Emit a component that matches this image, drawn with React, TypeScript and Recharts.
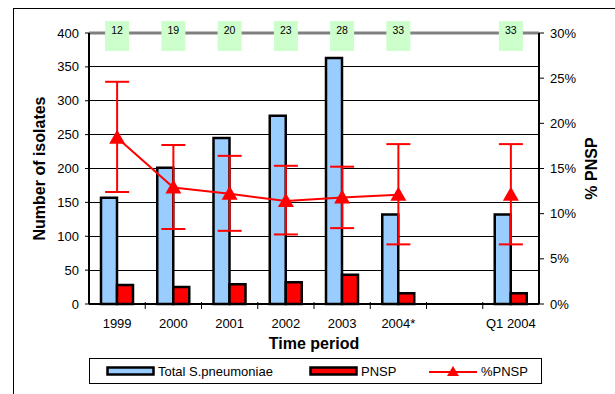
import { ComposedChart, Bar, Line, XAxis, YAxis, CartesianGrid, ReferenceLine, ErrorBar, Label } from 'recharts';

const periods = ['1999', '2000', '2001', '2002', '2003', '2004*', '', 'Q1 2004'];
const totalIsolates = [157, 201, 245, 278, 363, 132, null, 132];
const pnspIsolates = [28, 25, 29, 32, 43, 16, null, 16];
const pnspPercent = [18.4, 12.9, 12.2, 11.4, 11.8, 12.1, null, 12.1];
const ciLower = [12.4, 8.3, 8.1, 7.7, 8.4, 6.6, null, 6.6];
const ciUpper = [24.6, 17.6, 16.4, 15.3, 15.2, 17.7, null, 17.7];
const labCounts = [12, 19, 20, 23, 28, 33, null, 33];
const leftTicks = [0, 50, 100, 150, 200, 250, 300, 350, 400];
const rightTicks = [0, 5, 10, 15, 20, 25, 30];

const data = periods.map((period, i) => ({
  period,
  total: totalIsolates[i],
  pnsp: pnspIsolates[i],
  pct: pnspPercent[i],
  pctErr:
    pnspPercent[i] == null ? undefined : [pnspPercent[i]! - ciLower[i]!, ciUpper[i]! - pnspPercent[i]!],
  labs: labCounts[i],
}));

const FONT = '"Liberation Sans", Arial, sans-serif';
const BLUE = '#99ccff';
const RED = '#ff0000';

const BottomTick = (props: any) => {
  const { x, y, payload, index } = props;
  const half = payload?.offset ?? 0;
  return (
    <g>
      {index > 0 && <line x1={x - half} x2={x - half} y1={y - 2} y2={y + 5} stroke="#000" strokeWidth={1} />}
      <text x={x} y={y + 24} textAnchor="middle" fontSize={13} fontFamily={FONT} fill="#000">
        {payload.value}
      </text>
    </g>
  );
};

const TopTick = (props: any) => {
  const { x, y, index } = props;
  const n = labCounts[index];
  if (n == null) return null;
  return (
    <g>
      <rect x={x - 12} y={y - 12} width={24} height={30} fill="#ccffcc" />
      <text x={x} y={y + 1} textAnchor="middle" fontSize={10.5} fontFamily={FONT} fill="#000">
        {n}
      </text>
    </g>
  );
};

const Triangle = (props: any) => {
  const { cx, cy } = props;
  if (cx == null || cy == null) return null;
  return <path d={`M${cx},${cy - 8} L${cx + 8},${cy + 6} L${cx - 8},${cy + 6} Z`} fill={RED} />;
};

const legendItems = [
  { name: 'Total S.pneumoniae', kind: 'bar', color: BLUE, left: 16 },
  { name: 'PNSP', kind: 'bar', color: RED, left: 219 },
  { name: '%PNSP', kind: 'line', color: RED, left: 339 },
];

function ChartLegend() {
  return (
    <div
      style={{
        position: 'absolute',
        left: 89,
        top: 358,
        width: 453,
        height: 26,
        border: '1px solid #000',
        boxSizing: 'border-box',
        fontFamily: FONT,
        fontSize: 13,
      }}
    >
      {legendItems.map((it) => (
        <div key={it.name} style={{ position: 'absolute', left: it.left, top: 0, height: 24, display: 'flex', alignItems: 'center' }}>
          <svg width={50} height={16} style={{ display: 'block' }}>
            {it.kind === 'bar' ? (
              <rect x={1.5} y={4.5} width={46} height={7} fill={it.color} stroke="#000" strokeWidth={2.5} />
            ) : (
              <g>
                <line x1={0} x2={48} y1={9} y2={9} stroke={it.color} strokeWidth={2} />
                <path d="M24,3 L30,13 L18,13 Z" fill={it.color} />
              </g>
            )}
          </svg>
          <span style={{ marginLeft: 2, color: '#000' }}>{it.name}</span>
        </div>
      ))}
    </div>
  );
}

export default function App() {
  return (
    <div style={{ position: 'absolute', left: 0, top: 0, width: 615, height: 394, overflow: 'hidden', background: '#fff', fontFamily: FONT }}>
      <div style={{ position: 'absolute', left: 13, top: 8, width: 700, height: 500, border: '1px solid #000' }} />
      <div style={{ position: 'absolute', left: 0, top: 0 }}>
        <ComposedChart width={615} height={394} data={data} margin={{ top: 0, right: 0, bottom: 40, left: 0 }} barGap={0}>
          <CartesianGrid vertical={false} stroke="#000" strokeWidth={1} yAxisId="left" shapeRendering="crispEdges" />
          <XAxis xAxisId="top" orientation="top" dataKey="period" height={33} axisLine={false} tickLine={false} tickSize={0} tickMargin={0} tick={<TopTick />} interval={0} />
          <XAxis
            dataKey="period"
            height={50}
            axisLine={{ stroke: '#000', strokeWidth: 2 }}
            tickLine={false}
            tickSize={0}
            tickMargin={0}
            tick={<BottomTick />}
            interval={0}
          >
            <Label
              content={(p: any) => {
                const vb = p.viewBox;
                return (
                  <text x={vb.x + vb.width / 2} y={vb.y + 45} textAnchor="middle" fontSize={16} fontWeight="bold" fontFamily={FONT} fill="#000">
                    Time period
                  </text>
                );
              }}
            />
          </XAxis>
          <YAxis
            yAxisId="left"
            width={89}
            domain={[0, 400]}
            ticks={leftTicks}
            interval={0}
            axisLine={{ stroke: '#000', strokeWidth: 2 }}
            tickLine={{ stroke: '#000' }}
            tickSize={4}
            tickMargin={6}
            tick={{ fontSize: 13, fill: '#000', fontFamily: FONT }}
          >
            <Label
              content={(p: any) => {
                const vb = p.viewBox;
                const cx = 45;
                const cy = vb.y + vb.height / 2;
                return (
                  <text x={cx} y={cy} transform={`rotate(-90, ${cx}, ${cy})`} textAnchor="middle" fontSize={16} fontWeight="bold" fontFamily={FONT} fill="#000">
                    Number of isolates
                  </text>
                );
              }}
            />
          </YAxis>
          <YAxis
            yAxisId="right"
            orientation="right"
            width={76}
            domain={[0, 30]}
            ticks={rightTicks}
            interval={0}
            allowDataOverflow
            axisLine={{ stroke: '#000', strokeWidth: 2 }}
            tickLine={{ stroke: '#000' }}
            tickSize={5}
            tickMargin={6}
            tickFormatter={(v: number) => `${v}%`}
            tick={{ fontSize: 13, fill: '#000', fontFamily: FONT }}
          >
            <Label
              content={(p: any) => {
                const vb = p.viewBox;
                const cx = vb.x + 58;
                const cy = vb.y + vb.height / 2;
                return (
                  <text x={cx} y={cy} transform={`rotate(-90, ${cx}, ${cy})`} textAnchor="middle" fontSize={16} fontWeight="bold" fontFamily={FONT} fill="#000">
                    % PNSP
                  </text>
                );
              }}
            />
          </YAxis>
          <ReferenceLine yAxisId="left" y={400} stroke="#808080" strokeWidth={3} />
          <Bar yAxisId="left" dataKey="total" name="Total S.pneumoniae" fill={BLUE} stroke="#000" strokeWidth={2.5} barSize={16} isAnimationActive={false} />
          <Bar yAxisId="left" dataKey="pnsp" name="PNSP" fill={RED} stroke="#000" strokeWidth={2.5} barSize={16} isAnimationActive={false} />
          <Line
            yAxisId="right"
            dataKey="pct"
            name="%PNSP"
            stroke={RED}
            strokeWidth={2}
            dot={<Triangle />}
            activeDot={false}
            isAnimationActive={false}
          >
            <ErrorBar dataKey="pctErr" direction="y" width={12} stroke={RED} strokeWidth={2} />
          </Line>
        </ComposedChart>
      </div>
      <ChartLegend />
    </div>
  );
}
